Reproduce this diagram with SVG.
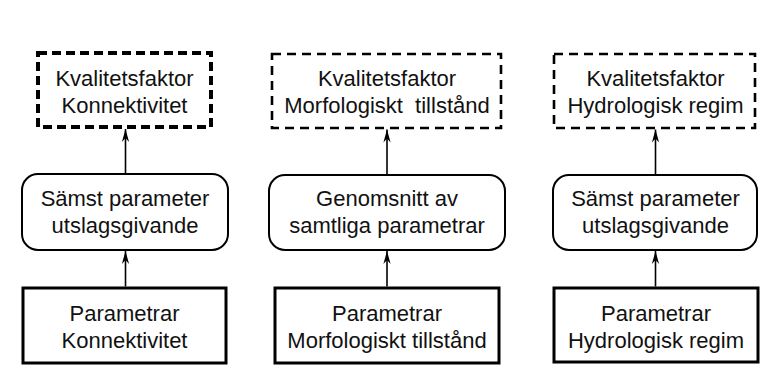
<svg xmlns="http://www.w3.org/2000/svg" width="761" height="372" viewBox="0 0 761 372">
<defs>
<style>
text{font-family:"Liberation Sans",Arial,sans-serif;font-size:22px;fill:#111;text-anchor:middle}
.dash1{fill:#fff;stroke:#000;stroke-width:4;stroke-dasharray:9 5}
.dash2{fill:#fff;stroke:#000;stroke-width:2.6;stroke-dasharray:9 6}
.round{fill:#fff;stroke:#000;stroke-width:2}
.base{fill:#fff;stroke:#000;stroke-width:3}
.conn{stroke:#000;stroke-width:1.6;fill:none;marker-end:url(#ah)}
</style>
<marker id="ah" markerUnits="userSpaceOnUse" markerWidth="14" markerHeight="10" viewBox="-13 -5 14 10" refX="0" refY="0" orient="auto">
<path d="M0,0 L-13,-3.6 L-9,0 L-13,3.6 Z" fill="#000"/>
</marker>
</defs>
<g id="kf1"><rect class="dash1" x="38" y="53" width="173" height="74"/><text x="124.5" y="85.5">Kvalitetsfaktor</text><text x="124.5" y="112.5">Konnektivitet</text></g>
<g id="kf2"><rect class="dash2" x="272" y="54" width="229" height="74"/><text x="387" y="85.5">Kvalitetsfaktor</text><text x="387" y="112.5" xml:space="preserve">Morfologiskt  tillstånd</text></g>
<g id="kf3"><rect class="dash2" x="554" y="54" width="201" height="74"/><text x="655.5" y="85.5">Kvalitetsfaktor</text><text x="655.5" y="112.5">Hydrologisk regim</text></g>
<g id="agg1"><rect class="round" x="22" y="174" width="206" height="76" rx="16"/><text x="125" y="205.5">Sämst parameter</text><text x="125" y="232.5">utslagsgivande</text></g>
<g id="agg2"><rect class="round" x="269" y="175" width="236" height="75" rx="16"/><text x="387" y="205.5">Genomsnitt av</text><text x="387" y="232.5">samtliga parametrar</text></g>
<g id="agg3"><rect class="round" x="553" y="175" width="204" height="75" rx="16"/><text x="655.5" y="205.5">Sämst parameter</text><text x="655.5" y="232.5">utslagsgivande</text></g>
<g id="par1"><rect class="base" x="23" y="288" width="203" height="75"/><text x="124.5" y="321">Parametrar</text><text x="124.5" y="348">Konnektivitet</text></g>
<g id="par2"><rect class="base" x="275" y="288" width="224" height="75"/><text x="387" y="321">Parametrar</text><text x="387" y="348">Morfologiskt tillstånd</text></g>
<g id="par3"><rect class="base" x="554" y="288" width="204" height="74"/><text x="656" y="321">Parametrar</text><text x="656" y="348">Hydrologisk regim</text></g>
<g id="connectors">
<line class="conn" x1="125.5" y1="286.5" x2="125.5" y2="251"/>
<line class="conn" x1="125.5" y1="173" x2="125.5" y2="129"/>
<line class="conn" x1="387" y1="286.5" x2="387" y2="251"/>
<line class="conn" x1="387" y1="174" x2="387" y2="129.5"/>
<line class="conn" x1="655.5" y1="286.5" x2="655.5" y2="251"/>
<line class="conn" x1="655.5" y1="174" x2="655.5" y2="129.5"/>
</g>
</svg>
